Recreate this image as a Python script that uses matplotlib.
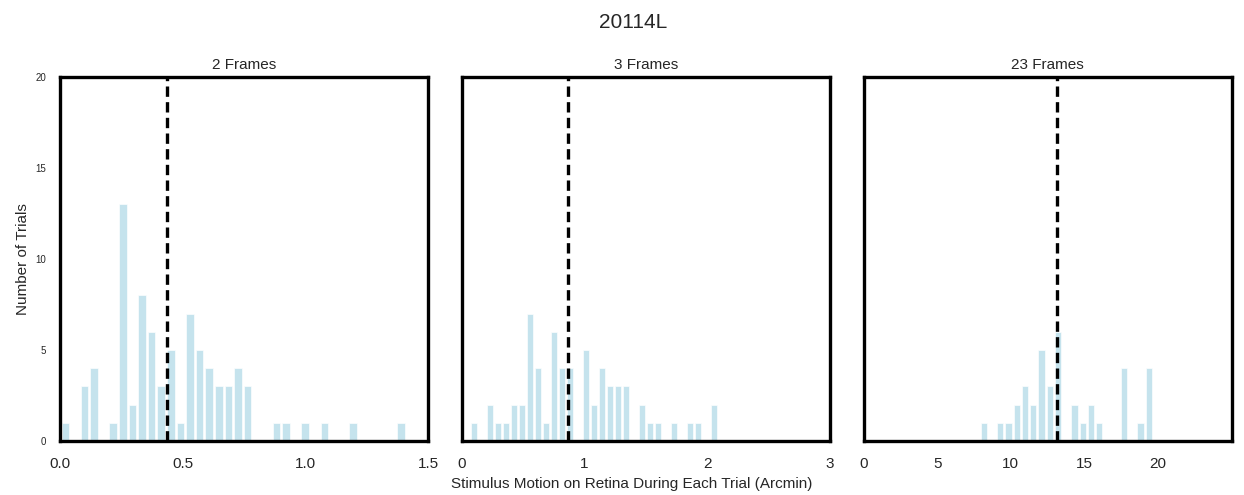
import numpy as np
import matplotlib
matplotlib.use("Agg")
import matplotlib.pyplot as plt

# histogram counts, one list per panel
titles = ["2 Frames", "3 Frames", "23 Frames"]

# panel 1: 36 bins over roughly 0.002 .. 1.41
counts_2 = [1, 0, 3, 4, 0, 1, 13, 2, 8, 6, 3, 5, 1, 7, 5, 4, 3, 3, 4, 3,
            0, 0, 1, 1, 0, 1, 0, 1, 0, 0, 1, 0, 0, 0, 0, 1]
range_2 = (0.002, 1.41)

# panel 2: 31 bins over roughly 0.065 .. 2.09
counts_3 = [1, 0, 2, 1, 1, 2, 2, 7, 4, 1, 6, 4, 4, 0, 5, 2, 4, 3, 3, 3,
            0, 2, 1, 1, 0, 1, 0, 1, 1, 0, 2]
range_3 = (0.065, 2.09)

# panel 3: 21 bins over roughly 7.88 .. 19.65
counts_23 = [1, 0, 1, 1, 2, 3, 2, 5, 3, 6, 0, 2, 1, 2, 1, 0, 0, 4, 0, 1, 4]
range_23 = (7.88, 19.65)

# dashed reference line per panel
medians = [0.435, 0.865, 13.12]
xlims = [(0, 1.5), (0, 3), (0, 25)]
xticks = [[0.0, 0.5, 1.0, 1.5], [0, 1, 2, 3], [0, 5, 10, 15, 20]]
xticklabels = [["0.0", "0.5", "1.0", "1.5"], ["0", "1", "2", "3"],
               ["0", "5", "10", "15", "20"]]
yticks = [0, 5, 10, 15, 20]

plt.rcParams['font.family'] = ['Liberation Sans', 'DejaVu Sans']
text_color = "#262626"

fig, axes = plt.subplots(1, 3, figsize=(12.44, 4.95), dpi=100, sharey=True)
fig.subplots_adjust(left=0.0482, right=0.9901, bottom=0.109, top=0.8444, wspace=0.0916)

panels = [(counts_2, range_2), (counts_3, range_3), (counts_23, range_23)]
for i, ax in enumerate(axes):
    counts, (lo, hi) = panels[i]
    edges = np.linspace(lo, hi, len(counts) + 1)
    centers = (edges[:-1] + edges[1:]) / 2
    ax.hist(centers, bins=edges, weights=counts, color="lightblue", alpha=0.7,
            rwidth=0.78, edgecolor="white", linewidth=0.6)
    ax.axvline(medians[i], color="black", linestyle="--", linewidth=2.4,
               dashes=(3.1, 1.6))
    ax.set_xlim(*xlims[i])
    ax.set_ylim(0, 20)
    ax.set_xticks(xticks[i])
    ax.set_xticklabels(xticklabels[i], fontsize=11, color=text_color)
    ax.set_title(titles[i], fontsize=11, color=text_color, pad=6)
    ax.tick_params(length=0)
    ax.tick_params(axis="x", pad=11.5)
    for s in ax.spines.values():
        s.set_linewidth(2.4)
        s.set_color("black")

axes[0].set_yticks(yticks)
axes[0].set_yticklabels([str(v) for v in yticks], fontsize=7, color=text_color)
axes[0].tick_params(axis="y", pad=10)
axes[0].set_ylabel("Number of Trials", fontsize=11, color=text_color, labelpad=4)
for ax in axes[1:]:
    ax.tick_params(axis="y", labelleft=False)

fig.text(0.508, 0.022, "Stimulus Motion on Retina During Each Trial (Arcmin)",
         ha="center", va="center", fontsize=11, color=text_color)
fig.suptitle("20114L", x=0.509, y=0.955, fontsize=15, color=text_color,
             va="center")

fig.savefig("out.png", dpi=100)
